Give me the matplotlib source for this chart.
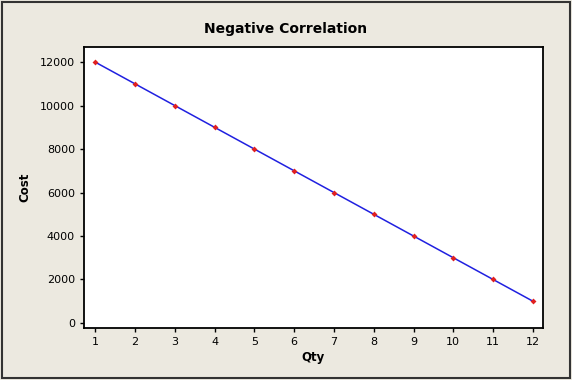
import matplotlib
matplotlib.use("Agg")
import matplotlib.pyplot as plt
from matplotlib.patches import Rectangle

qty = [1, 2, 3, 4, 5, 6, 7, 8, 9, 10, 11, 12]
cost = [12000, 11000, 10000, 9000, 8000, 7000, 6000, 5000, 4000, 3000, 2000, 1000]
xticks = [1, 2, 3, 4, 5, 6, 7, 8, 9, 10, 11, 12]
yticks = [0, 2000, 4000, 6000, 8000, 10000, 12000]

bg = "#ECE9E0"
fig = plt.figure(figsize=(5.72, 3.80), dpi=100, facecolor=bg)
fig.patches.append(Rectangle((0.004, 0.004), 0.992, 0.992, transform=fig.transFigure,
                             fill=False, edgecolor="#333333", linewidth=1.5))
ax = fig.add_axes([0.147, 0.137, 0.802, 0.739])
ax.set_facecolor("white")
ax.plot(qty, cost, color="#2020E0", linewidth=1.1, zorder=2)
ax.scatter(qty, cost, marker="D", s=9, color="#E02020", zorder=3, linewidths=0)
ax.set_xlim(0.72, 12.25)
ax.set_ylim(-230, 12690)
ax.set_xticks(xticks)
ax.set_yticks(yticks)
for s in ax.spines.values():
    s.set_linewidth(1.3)
    s.set_color("black")
ax.tick_params(direction="out", length=3, width=1, labelsize=8)
ax.set_xlabel("Qty", fontsize=8.5, fontweight="bold", labelpad=3)
ax.set_ylabel("Cost", fontsize=8.5, fontweight="bold", labelpad=6)
fig.text(0.5, 0.925, "Negative Correlation", ha="center", va="center",
         fontsize=10, fontweight="bold")
fig.savefig("out.png", dpi=100, facecolor=bg)
